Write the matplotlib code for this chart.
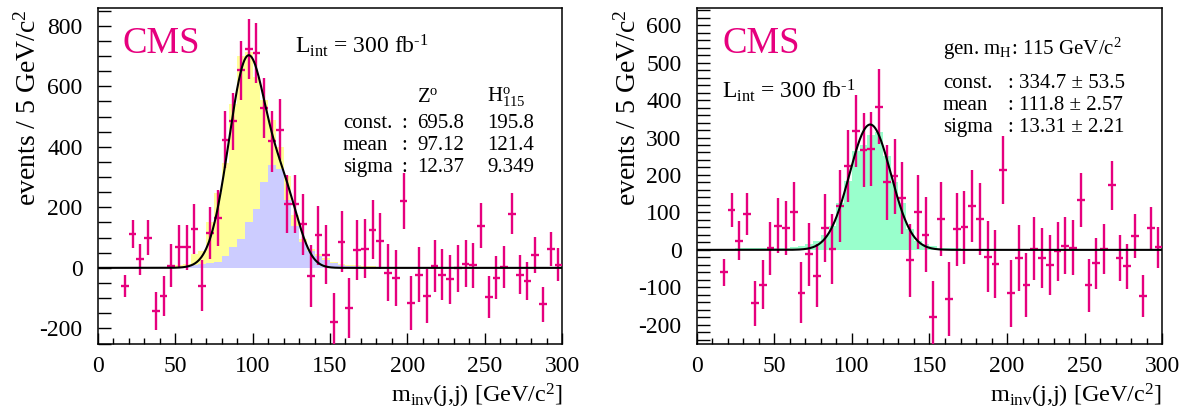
import numpy as np
import matplotlib
matplotlib.use("Agg")
import matplotlib.pyplot as plt
from matplotlib.ticker import MultipleLocator

plt.rcParams['font.family'] = ['Liberation Serif', 'DejaVu Serif']
plt.rcParams['mathtext.fontset'] = 'custom'
plt.rcParams['mathtext.rm'] = 'Liberation Serif'
plt.rcParams['mathtext.it'] = 'Liberation Serif:italic'
plt.rcParams['mathtext.bf'] = 'Liberation Serif:bold'
plt.rcParams['axes.unicode_minus'] = False

MAGENTA = '#E6007E'

# ---------------- data ----------------
bin_width = 5
hist_edges = np.arange(0, 305, 5)
point_start = 17.5

# left panel: data points (background subtracted)
left_counts = [-59, 111, 29, 100, -143, -93, 7, 70, 68, 128, -59, 114, 164, 424, 484,
               653, 723, 711, 528, 418, 457, 212, 212, 144, -27, 107, 44, -180, 87,
               -133, 59, 63, 126, 89, -16, -33, 222, -116, -22, -93, 6, -22, -38, -2,
               14, 9, 140, -97, -33, 3, 179, -22, -43, 42, -121, 62, 11]
left_errors = [36, 46, 51, 57, 62, 66, 71, 72, 74, 82, 84, 86, 92, 93, 94,
               97, 98, 100, 100, 100, 100, 96, 96, 100, 101, 97, 97, 97, 100,
               98, 99, 98, 97, 94, 94, 92, 93, 89, 90, 88, 86, 84, 82, 79,
               78, 74, 74, 70, 71, 68, 67, 65, 64, 60, 58, 57, 56]

# left panel: MC histograms (Z+H total in yellow, H in blue), 5 GeV bins 0..300
left_total = [0, 0, 0, 0, 0, 0, 0, 0, 3, 5, 8, 12, 45, 55, 151, 249, 347, 543, 700, 715,
              630, 555, 490, 400, 305, 175, 95, 62, 45, 32, 20, 14, 10, 8,
              5, 5, 4, 4, 4, 3, 3, 3, 3, 3, 3, 3, 3, 3, 3, 3, 3, 3, 3, 3, 3, 3, 3, 3, 3, 3]
left_higgs = [0, 0, 0, 0, 0, 0, 0, 0, 1, 2, 3, 5, 8, 12, 15, 20, 38, 69, 97, 151,
              193, 285, 340, 327, 225, 140, 85, 55, 38, 25, 15, 10, 7, 5,
              3, 3, 3, 2, 2, 2, 2, 2, 2, 2, 1, 1, 1, 1, 1, 1, 1, 1, 1, 1, 1, 1, 1, 1, 1, 1]

# left fit parameters (Z and H gaussians)
fit_labels = ['const.', 'mean', 'sigma']
z_fit = [695.8, 97.12, 12.37]
h_fit = [195.8, 121.4, 9.349]
z_fit_text = ['695.8', '97.12', '12.37']
h_fit_text = ['195.8', '121.4', '9.349']

# right panel: data points
right_counts = [-60, 107, 25, 96, -142, -93, 4, 65, 58, 102, -114, -12, -69, 58, 3,
                117, 225, 317, 267, 269, 382, 180, 196, 138, -28, 102, 40, -178, 83,
                -131, 55, 60, 118, 83, -18, -37, 213, -116, -22, -93, 3, -22, -40, -4,
                11, 6, 133, -95, -36, 2, 172, -22, -44, 38, -122, 58, 7]
right_errors = [36, 46, 51, 56, 60, 65, 70, 73, 73, 79, 81, 85, 84, 91, 93,
                96, 96, 96, 98, 99, 100, 99, 99, 96, 98, 99, 100, 95, 99,
                98, 97, 97, 96, 96, 94, 91, 91, 90, 88, 85, 84, 80, 80, 79,
                76, 74, 72, 70, 68, 66, 65, 62, 60, 59, 56, 57, 55]

# right panel: H MC histogram
right_higgs = [0, 0, 0, 0, 3, 4, 4, 4, 4, 4, 5, 5, 7, 10, 15, 25, 40, 64, 125, 185,
               265, 280, 308, 316, 250, 180, 125, 55, 25, 15, 9, 6, 5, 4,
               3, 3, 2, 2, 2, 2, 2, 2, 2, 2, 2, 2, 1, 1, 1, 1, 1, 1, 1, 1, 1, 1, 1, 1, 1, 1]

right_fit = [334.7, 111.8, 13.31]
right_fit_text = ['334.7 \u00b1 53.5', '111.8 \u00b1 2.57', '13.31 \u00b1 2.21']

x_ticks = [0, 50, 100, 150, 200, 250, 300]
left_yticks = [-200, 0, 200, 400, 600, 800]
right_yticks = [-200, -100, 0, 100, 200, 300, 400, 500, 600]


def gauss(x, p):
    return p[0] * np.exp(-0.5 * ((x - p[1]) / p[2]) ** 2)


# ---------------- figure ----------------
W, H = 1186, 413
fig = plt.figure(figsize=(W / 100, H / 100), dpi=100)


def px_axes(x0, x1, ytop, ybot):
    return fig.add_axes([x0 / W, (H - ybot) / H, (x1 - x0) / W, (ybot - ytop) / H])


axL = px_axes(97.7, 562.3, 8.3, 343.5)
axR = px_axes(696.7, 1162.3, 8.3, 343.5)


def style(ax, ylim, ymin_minor, yticks):
    ax.set_xlim(0, 300)
    ax.set_ylim(*ylim)
    ax.set_xticks(x_ticks)
    ax.set_yticks(yticks)
    ax.xaxis.set_minor_locator(MultipleLocator(10))
    ax.yaxis.set_minor_locator(MultipleLocator(ymin_minor))
    ax.tick_params(which='both', direction='in', top=False, right=False, width=1.0,
                   color='black')
    ax.tick_params(which='major', length=8, labelsize=17)
    ax.tick_params(which='minor', length=4)
    ax.tick_params(axis='y', which='major', length=9, pad=11)
    ax.tick_params(axis='y', which='minor', length=9)
    ax.tick_params(axis='x', which='major', pad=9)
    for s in ax.spines.values():
        s.set_linewidth(1.1)


xfine = np.linspace(0, 300, 1201)
xpts = point_start + bin_width * np.arange(len(left_counts))

# left
axL.stairs(left_total, hist_edges, fill=True, color='#FFFF99', lw=0, zorder=1)
axL.stairs(left_higgs, hist_edges, fill=True, color='#CCCCFF', lw=0, zorder=2)
axL.errorbar(xpts, left_counts, yerr=left_errors, xerr=bin_width / 2, fmt='none',
             ecolor=MAGENTA, elinewidth=1.7, capsize=0, zorder=3)
axL.plot(xfine, gauss(xfine, z_fit) + gauss(xfine, h_fit), color='black', lw=1.5, zorder=4)
style(axL, (-250, 858), 50, left_yticks)

# right
axR.stairs(right_higgs, hist_edges, fill=True, color='#99FFCC', lw=0, zorder=1)
axR.errorbar(xpts, right_counts, yerr=right_errors, xerr=bin_width / 2, fmt='none',
             ecolor=MAGENTA, elinewidth=1.7, capsize=0, zorder=3)
axR.plot(xfine, gauss(xfine, right_fit), color='black', lw=1.5, zorder=4)
style(axR, (-250, 645), 20, right_yticks)


def tx(ax, x0, w, px, py, s, **kw):
    ax.text((px - x0) / w, (343.5 - py) / 335.2, s, transform=ax.transAxes,
            va='baseline', **kw)


lum = r'L$_{\rm int}$ = 300 fb$^{\text{-1}}$'
FS = 15

# left texts
tx(axL, 97.7, 464.6, 123, 53, 'CMS', color=MAGENTA, fontsize=26.5)
tx(axL, 97.7, 464.6, 295, 53, lum, fontsize=17)
tx(axL, 97.7, 464.6, 417, 102, r'Z$^{\rm o}$', fontsize=FS)
tx(axL, 97.7, 464.6, 487, 102, r'H$^{\rm o}_{\rm 115}$', fontsize=FS)
for i, (lab, zt, ht) in enumerate(zip(fit_labels, z_fit_text, h_fit_text)):
    yb = 128 + 22 * i
    tx(axL, 97.7, 464.6, 343, yb, lab, fontsize=FS)
    tx(axL, 97.7, 464.6, 404, yb, ':', fontsize=FS, ha='center')
    tx(axL, 97.7, 464.6, 417, yb, zt, fontsize=FS)
    tx(axL, 97.7, 464.6, 487, yb, ht, fontsize=FS)

# right texts
tx(axR, 696.7, 465.6, 723, 53, 'CMS', color=MAGENTA, fontsize=26.5)
tx(axR, 696.7, 465.6, 722, 98, lum, fontsize=17)
tx(axR, 696.7, 465.6, 943, 55, r'gen. m$_{\rm H}$: 115 GeV/c$^{\rm 2}$', fontsize=FS)
for i, (lab, vt) in enumerate(zip(fit_labels, right_fit_text)):
    yb = 88 + 22 * i
    tx(axR, 696.7, 465.6, 943, yb, lab, fontsize=FS)
    tx(axR, 696.7, 465.6, 1010, yb, ':', fontsize=FS, ha='center')
    tx(axR, 696.7, 465.6, 1019, yb, vt, fontsize=FS)

# axis titles
ylab = r'events / 5 GeV/c$^{\rm 2}$'
xlab = r'm$_{\rm inv}$(j,j) [GeV/c$^{\rm 2}$]'
fig.text(28 / W, 1 - 9 / H, ylab, rotation=90, ha='center', va='top', fontsize=20)
fig.text(628 / W, 1 - 9 / H, ylab, rotation=90, ha='center', va='top', fontsize=20)
fig.text(563 / W, 1 - 402 / H, xlab, ha='right', va='baseline', fontsize=17.5)
fig.text(1162 / W, 1 - 402 / H, xlab, ha='right', va='baseline', fontsize=17.5)

fig.savefig('out.png', dpi=100)
